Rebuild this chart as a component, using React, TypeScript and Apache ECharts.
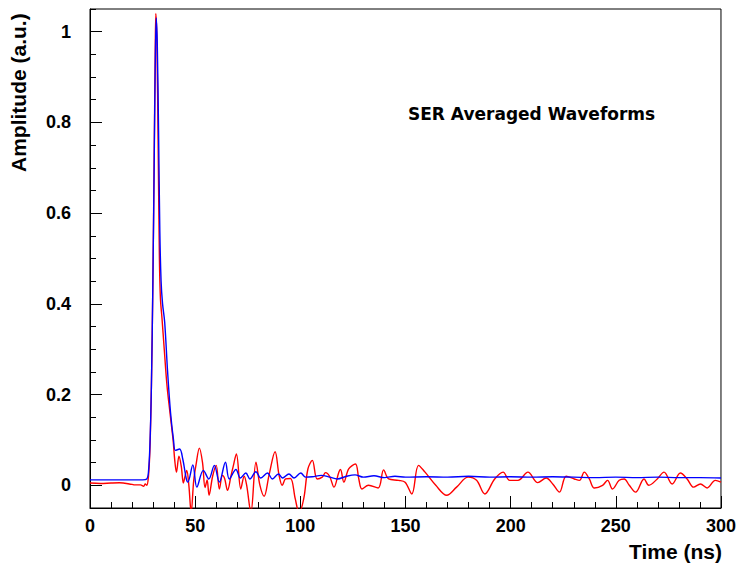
import React, { useEffect, useRef } from "react";
import * as echarts from "echarts";

// Red waveform: [time (ns), amplitude]
const redTimes = [0, 5, 10, 14, 20, 21.2, 24, 25.5, 26.3, 27, 27.8, 28.5, 29.2, 29.9, 30.5, 31.0, 31.3, 31.8, 32.4, 33.0, 33.5, 34.2, 35.3, 36.6, 37.9, 39.5, 40.3, 41.1, 42.3, 43.4, 44.4, 45.2, 46.0, 47.0, 48.1, 49.3, 50.4, 52.0, 53.5, 54.7, 55.7, 56.6, 58.3, 60.0, 61.5, 63.0, 64.0, 65.4, 67.0, 68.0, 69.6, 71.7, 73.3, 74.5, 76.5, 78.9, 80.8, 82.8, 85.1, 88.0, 89.9, 91.4, 93.0, 95.3, 97.6, 99.4, 101.6, 103.6, 105.7, 108.0, 110.4, 112.0, 113.9, 116.0, 118.3, 119.1, 120.7, 123.0, 126.2, 127.8, 129.3, 132.4, 137.0, 139.6, 142.0, 146.7, 149.8, 153.0, 156.2, 159.3, 164.4, 169.6, 174.3, 179.8, 183.8, 187.7, 192.4, 196.4, 199.5, 203.5, 208.2, 212.9, 216.9, 220.0, 223.2, 226.4, 230.3, 232.7, 235.0, 237.4, 239.8, 243.7, 246.1, 248.4, 251.6, 254.0, 256.4, 259.4, 263.4, 265.7, 269.7, 272.9, 276.8, 280.7, 283.9, 287.0, 290.2, 293.4, 297.3, 300];
const redValues = [0.005, 0.004, 0.005, 0.0055, 0.002, 0.001, 0.001, -0.002, 0.003, 0.0, 0.02, 0.08, 0.22, 0.45, 0.72, 0.95, 1.04, 0.98, 0.75, 0.5, 0.41, 0.37, 0.3, 0.22, 0.165, 0.1, 0.055, 0.029, 0.064, 0.042, 0.005, 0.02, 0.033, 0.0, -0.06, 0.01, 0.045, 0.082, 0.05, -0.005, 0.012, -0.022, 0.02, 0.044, -0.008, 0.022, 0.015, -0.011, 0.02, 0.04, 0.069, -0.008, 0.02, 0.0, -0.06, 0.051, 0.0, -0.024, 0.022, 0.074, 0.022, 0.0, 0.014, 0.015, -0.03, -0.06, -0.03, 0.036, 0.055, 0.014, 0.018, 0.028, 0.02, -0.004, 0.029, 0.035, 0.007, 0.036, 0.047, 0.014, -0.008, 0.0, -0.006, 0.034, 0.014, 0.011, 0.007, -0.019, 0.044, 0.029, 0.0, -0.022, -0.004, 0.018, 0.011, -0.019, 0.014, 0.029, 0.011, 0.011, 0.029, 0.006, 0.016, 0.003, -0.015, 0.02, 0.014, 0.011, 0.029, 0.014, -0.006, 0.0, 0.011, -0.008, 0.011, 0.014, 0.0, -0.015, 0.014, 0.0, 0.014, 0.029, 0.003, 0.027, 0.014, -0.004, 0.003, -0.006, 0.011, 0.007];

// Blue waveform: [time (ns), amplitude]
const blueTimes = [0, 10, 20, 25, 27, 27.8, 28.5, 29.2, 29.9, 30.5, 31.0, 31.5, 32.0, 32.6, 33.2, 33.8, 34.5, 35.5, 36.9, 38.3, 39.7, 40.6, 42.6, 44.1, 45.8, 46.5, 48.9, 50.8, 53.9, 56.5, 59.1, 61.5, 64.4, 66.2, 69.4, 71.5, 74.1, 76.0, 78.9, 81.2, 84.4, 86.7, 89.6, 91.5, 94.6, 97.0, 100.2, 102.5, 105.7, 110, 114, 117.5, 122, 126, 130, 135, 140, 145, 150, 160, 170, 180, 190, 200, 210, 220, 230, 240, 250, 260, 270, 280, 290, 300];
const blueValues = [0.012, 0.012, 0.012, 0.012, 0.014, 0.03, 0.09, 0.22, 0.45, 0.7, 0.92, 1.03, 0.97, 0.78, 0.56, 0.45, 0.4, 0.36, 0.25, 0.16, 0.1, 0.077, 0.08, 0.058, 0.014, 0.007, 0.045, -0.004, 0.033, 0.014, 0.044, 0.007, 0.051, 0.014, 0.035, 0.016, 0.027, 0.014, 0.03, 0.016, 0.027, 0.014, 0.025, 0.016, 0.025, 0.016, 0.027, 0.018, 0.019, 0.022, 0.018, 0.014, 0.02, 0.023, 0.018, 0.021, 0.017, 0.02, 0.018, 0.019, 0.018, 0.02, 0.018, 0.019, 0.018, 0.019, 0.018, 0.017, 0.018, 0.017, 0.018, 0.017, 0.017, 0.016];

const yMajorTicks = [0, 0.2, 0.4, 0.6, 0.8, 1];
const yMinorTicks = [-0.05, 0.05, 0.1, 0.15, 0.25, 0.3, 0.35, 0.45, 0.5, 0.55, 0.65, 0.7, 0.75, 0.85, 0.9, 0.95, 1.05];

const titleText = "SER Averaged Waveforms";
const xTitle = "Time (ns)";
const yTitle = "Amplitude (a.u.)";

export default function App() {
  const ref = useRef<HTMLDivElement>(null);
  useEffect(() => {
    if (!ref.current) return;
    const chart = echarts.init(ref.current, undefined, { renderer: "svg" });
    const redData = redTimes.map((t, i) => [t, redValues[i]]);
    const blueData = blueTimes.map((t, i) => [t, blueValues[i]]);
    const labelFont = { fontFamily: "Liberation Sans", fontWeight: "bold" as const, fontSize: 18, color: "#000" };
    chart.setOption({
      animation: false,
      backgroundColor: "#fff",
      grid: { left: 90, right: 15, top: 9, bottom: 57, show: true, borderColor: "#000", borderWidth: 1 },
      xAxis: {
        type: "value",
        min: 0,
        max: 300,
        interval: 50,
        axisLine: { onZero: false, lineStyle: { color: "#000", width: 1 } },
        axisTick: { inside: true, length: 12, lineStyle: { color: "#000" } },
        minorTick: { show: true, splitNumber: 5, length: 6, lineStyle: { color: "#000" } },
        splitLine: { show: false },
        axisLabel: { ...labelFont, margin: 9, showMaxLabel: true },
      },
      yAxis: [
        {
          type: "value",
          min: -0.05,
          max: 1.05,
          axisLine: { show: true, onZero: false, lineStyle: { color: "#000", width: 1 } },
          axisTick: { show: true, inside: true, length: 12, customValues: yMajorTicks, lineStyle: { color: "#000" } },
          splitLine: { show: false },
          axisLabel: { ...labelFont, margin: 19, customValues: yMajorTicks, formatter: (v: number) => String(Math.round(v * 10) / 10) },
        },
        {
          type: "value",
          min: -0.05,
          max: 1.05,
          position: "left",
          axisLine: { show: false, onZero: false },
          axisTick: { show: true, inside: true, length: 6, customValues: yMinorTicks, lineStyle: { color: "#000" } },
          splitLine: { show: false },
          axisLabel: { show: false },
        },
      ],
      series: [
        { type: "line", data: redData, showSymbol: false, symbol: "none", smooth: 0.35, lineStyle: { color: "#ff0000", width: 1.4 }, clip: true, z: 2 },
        { type: "line", data: blueData, showSymbol: false, symbol: "none", smooth: 0.35, lineStyle: { color: "#0000ff", width: 1.4 }, clip: true, z: 3 },
      ],
      graphic: [
        { type: "text", left: 408, top: 105, style: { text: titleText, font: 'bold 17px "DejaVu Sans"', fill: "#000" } },
        { type: "text", right: 17, top: 541, style: { text: xTitle, font: 'bold 21px "Liberation Sans"', fill: "#000" } },
        { type: "text", x: 8, y: 172, rotation: Math.PI / 2, style: { text: yTitle, font: 'bold 21px "Liberation Sans"', fill: "#000", textAlign: "left", textVerticalAlign: "top" } },
      ],
    });
    return () => chart.dispose();
  }, []);
  return <div ref={ref} style={{ position: "fixed", left: 0, top: 0, width: 739, height: 565 }} />;
}
